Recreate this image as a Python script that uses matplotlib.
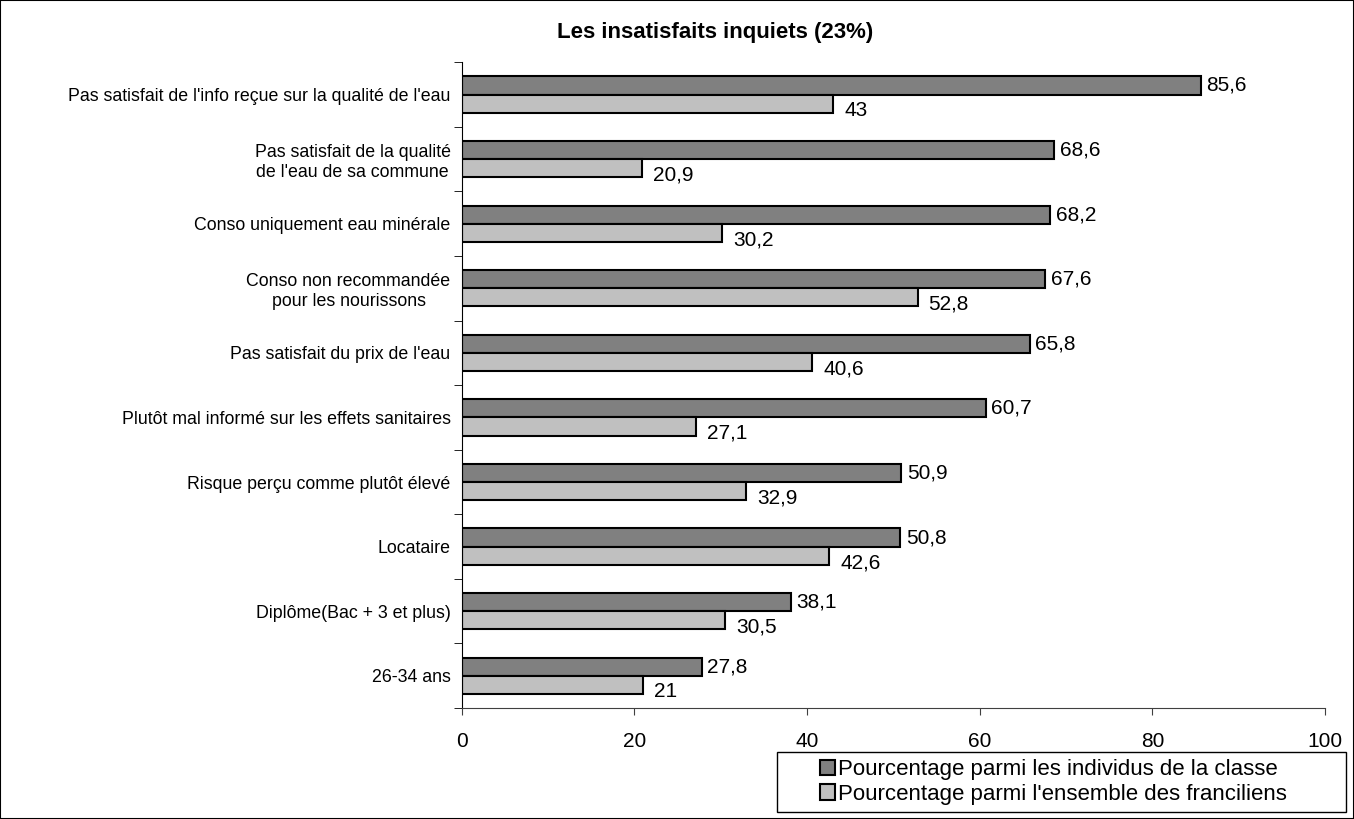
import matplotlib.pyplot as plt
import numpy as np
from matplotlib.patches import Rectangle

plt.rcParams['font.family'] = ['Liberation Sans', 'DejaVu Sans']

categories = ["Pas satisfait de l'info reçue sur la qualité de l'eau",
              "Pas satisfait de la qualité\nde l'eau de sa commune",
              "Conso uniquement eau minérale",
              "Conso non recommandée\npour les nourissons",
              "Pas satisfait du prix de l'eau",
              "Plutôt mal informé sur les effets sanitaires",
              "Risque perçu comme plutôt élevé",
              "Locataire",
              "Diplôme(Bac + 3 et plus)",
              "26-34 ans"]
classe = [85.6, 68.6, 68.2, 67.6, 65.8, 60.7, 50.9, 50.8, 38.1, 27.8]
ensemble = [43, 20.9, 30.2, 52.8, 40.6, 27.1, 32.9, 42.6, 30.5, 21]
series_names = ["Pourcentage parmi les individus de la classe",
                "Pourcentage parmi l'ensemble des franciliens"]


def fmt(v):
    return ("%g" % v).replace('.', ',')


fig = plt.figure(figsize=(13.54, 8.19), dpi=100)
ax = fig.add_axes([0.341, 0.1355, 0.6376, 0.7885])

y = np.arange(len(categories))
h = 0.28
b1 = ax.barh(y - h / 2, classe, height=h, color='#808080', edgecolor='black',
             linewidth=1.5, label=series_names[0])
b2 = ax.barh(y + h / 2, ensemble, height=h, color='#c0c0c0', edgecolor='black',
             linewidth=1.5, label=series_names[1])

for i in range(len(categories)):
    ax.annotate(fmt(classe[i]), xy=(classe[i], y[i] - h / 2), xytext=(4, 0),
                textcoords='offset points', va='center', ha='left', fontsize=15)
    ax.annotate(fmt(ensemble[i]), xy=(ensemble[i], y[i] + h / 2), xytext=(8, -5),
                textcoords='offset points', va='center', ha='left', fontsize=15)

ax.set_xlim(0, 100)
ax.set_ylim(len(categories) - 0.5, -0.5)
ax.set_xticks([0, 20, 40, 60, 80, 100])
ax.tick_params(axis='x', labelsize=15, length=5, pad=12, color='#404040')
ax.set_yticks(y)
ax.set_yticklabels(categories, multialignment='center')
ax.tick_params(axis='y', which='major', length=0, pad=8, labelsize=12.8)
ax.set_yticks(np.arange(-0.5, len(categories), 1), minor=True)
ax.tick_params(axis='y', which='minor', length=6, color='black')
ax.spines['top'].set_visible(False)
ax.spines['right'].set_visible(False)
ax.spines['bottom'].set_color('#404040')

fig.text(0.528, 0.96, "Les insatisfaits inquiets (23%)", ha='center', va='center',
         fontsize=16, fontweight='bold')

# legend box is wider than its contents, so the frame is drawn apart
fig.patches.append(Rectangle((0.574, 0.0085), 0.42, 0.0733, transform=fig.transFigure,
                             fill=False, edgecolor='black', linewidth=1))
fig.legend(handles=[b1, b2], loc='center', bbox_to_anchor=(0.778, 0.045),
           fontsize=16, frameon=False, handlelength=0.7, handleheight=0.7,
           handletextpad=0.15, borderpad=0, labelspacing=0.15, borderaxespad=0)

fig.patches.append(Rectangle((0, 0), 1, 1, transform=fig.transFigure, fill=False,
                             edgecolor='black', linewidth=1.5))

fig.savefig('out.png', dpi=100)
